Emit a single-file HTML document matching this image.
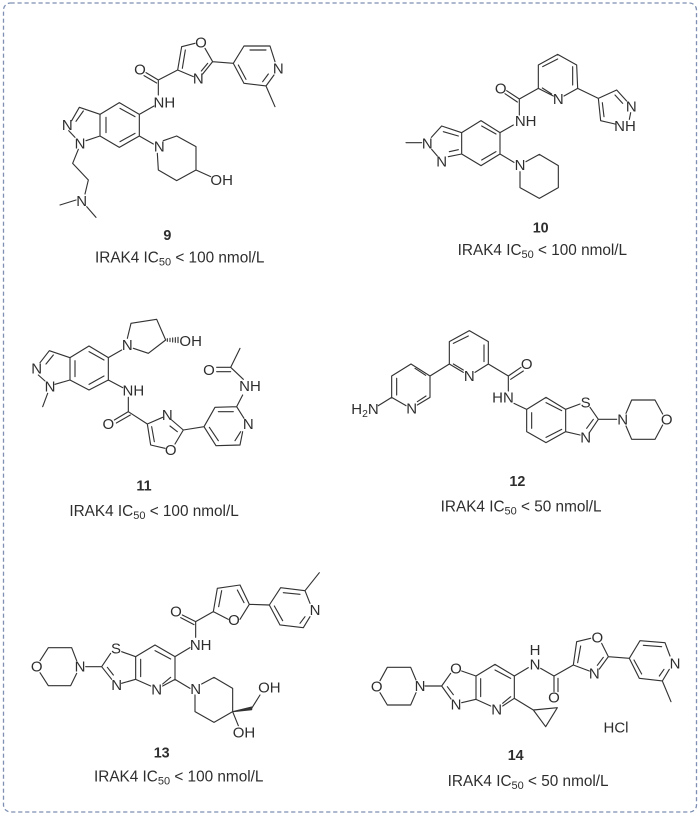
<!DOCTYPE html>
<html><head><meta charset="utf-8"><style>
html,body{margin:0;padding:0;background:#fff}
svg{display:block;filter:blur(.35px)}
path{fill:none;stroke:#333;stroke-width:3.4;stroke-linecap:round;stroke-linejoin:round}
text{font-family:"Liberation Sans",sans-serif;font-size:45px;fill:#2e2e2e;text-anchor:middle}
.b{font-weight:bold;font-size:43px}
.c{text-anchor:start;font-size:46px}
</style></head><body>
<svg width="700" height="816" viewBox="0 0 700 816" xmlns="http://www.w3.org/2000/svg">
<rect x="3.5" y="3" width="693" height="809" rx="7" fill="none" stroke="#7d8fb3" stroke-width="1.3" stroke-dasharray="4.2 2.8"/>

<!-- 9 -->
<g transform="translate(20,0) scale(.33333)">
<path d="M485 140L525 130M555 145L578 185L548 222M563 190L544 213M473 210L520 230M473 210L485 140M487 205L496 150M473 210L415 240L378 218M410 249L372 227M415 240V285M578 185L640 190L672 138H750L765 185M690 150H738M762 225L738 258L672 250L640 190M745 222L728 245M678 238L655 195M738 258L765 320M358 343L402 318M358 408L400 432M430 422L470 408L528 440V510L470 542L415 510L412 460M528 510L572 530M358 343L298 308L240 343V408L298 442L358 408V343M258 352V398M300 325L345 350M300 425L345 400M240 343L178 322L155 362M190 333L168 364M146 392L165 412M198 422L240 408M175 448L158 490L205 540L195 582M168 600L120 615M200 620L228 652"/>
<text x="543" y="143">O</text><text x="535" y="250">N</text><text x="360" y="223">O</text><text x="433" y="322">NH</text><text x="775" y="221">N</text><text x="142" y="390">N</text><text x="180" y="445">N</text><text x="418" y="455">N</text><text x="605" y="555">OH</text><text x="185" y="618">N</text>
<text class="b" x="442" y="720">9</text>
<text class="c" x="225" y="788">IRAK4 IC<tspan font-size="33" dy="9">50</tspan><tspan dy="-9"> &lt; 100 nmol/L</tspan></text>
</g>

<!-- 10 -->
<g transform="translate(350,0) scale(.33333)">
<path d="M610 288L565 265V195L623 163L680 195L683 265L642 288M578 200L623 177M668 200V255M577 264L605 282M565 265L508 297L470 272M502 306L465 281M508 297V345M490 375L450 398L393 362L335 398V462L393 497L450 462V398M395 378L438 402M395 480L438 455M335 398L275 378L244 412M280 395L325 408M245 448L262 468M295 470L335 462M298 455L325 449M168 428H215M450 462L492 487M528 485L568 463L625 497V563L568 595L510 563V515M683 265L745 295L800 270L830 303M795 285L818 310M842 338L838 358M795 372L752 362L745 295M762 350L757 308"/>
<text x="452" y="280">O</text><text x="625" y="312">N</text><text x="527" y="378">NH</text><text x="232" y="445">N</text><text x="275" y="500">N</text><text x="510" y="510">N</text><text x="844" y="335">N</text><text x="825" y="393">NH</text>
<text class="b" x="572" y="698">10</text>
<text class="c" x="323" y="765">IRAK4 IC<tspan font-size="33" dy="9">50</tspan><tspan dy="-9"> &lt; 100 nmol/L</tspan></text>
</g>

<!-- 11 -->
<g transform="translate(20,290) scale(.33333)">
<path d="M150 203L207 168L265 203V270L207 300L150 270V203M207 185L252 210M207 283L252 258M165 212V260M265 203L305 180M322 145L333 100L410 88L437 150L385 190L340 175M265 270L308 293M325 322V365L283 390M331 375L289 399M325 365L382 402L428 382M455 390L490 420L465 462M450 408L472 425M435 475L392 465L382 402M403 455L395 410M490 420L552 410L585 352L650 350L668 315M595 365H640M650 350L672 385M668 425L660 465L588 467L552 410M645 452L662 425M568 412L595 452M670 268L632 232L590 232M632 245H590M632 232L660 175M150 203L88 182L60 218M100 195L78 222M55 255L75 273M105 283L150 270M83 310L68 350"/>
<path d="M442 146V154M450 145V155M458 144V156M466 143V157M474 142V158" stroke-width="2.4"/>
<text x="322" y="180">N</text><text x="512" y="168">OH</text><text x="340" y="316">NH</text><text x="265" y="417">O</text><text x="442" y="390">N</text><text x="452" y="495">O</text><text x="685" y="417">N</text><text x="690" y="303">NH</text><text x="567" y="255">O</text><text x="50" y="250">N</text><text x="90" y="305">N</text>
<text class="b" x="372" y="602">11</text>
<text class="c" x="148" y="678">IRAK4 IC<tspan font-size="33" dy="9">50</tspan><tspan dy="-9"> &lt; 100 nmol/L</tspan></text>
</g>

<!-- 12 -->
<g transform="translate(340,290) scale(.33333)">
<path d="M370 247L328 222V155L388 122L445 155V222L405 247M340 160L385 138M432 165V215M340 222L370 240M445 222L505 258L543 232M512 268L550 243M505 258V303M522 340L560 358L618 322L677 358V425L618 458L560 425V358M618 338L665 362M618 442L665 418M575 368V415M677 358L720 342M750 352L775 388L748 428M760 388L740 415M720 435L677 425M775 388H830M858 370L875 330H945L968 372M968 405L945 448H875L858 408M328 222L270 258L213 222L155 258V322L198 347M225 235L257 256M170 265V315M270 258V322L232 345M258 318L232 335M155 322L115 347"/>
<text x="388" y="273">N</text><text x="560" y="237">O</text><text x="489" y="338">HN</text><text x="737" y="353">S</text><text x="737" y="458">N</text><text x="848" y="403">N</text><text x="980" y="403">O</text><text x="215" y="370">N</text>
<text x="75" y="372">H<tspan font-size="31" dy="9">2</tspan><tspan dy="-9">N</tspan></text>
<text class="b" x="532" y="588">12</text>
<text class="c" x="302" y="665">IRAK4 IC<tspan font-size="33" dy="9">50</tspan><tspan dy="-9"> &lt; 50 nmol/L</tspan></text>
</g>

<!-- 13 -->
<g transform="translate(20,560) scale(.33333)">
<path d="M60 302L85 263H155L170 302M170 340L152 377H85L60 338M197 320H245L272 280M305 275L347 290V358L305 370M275 358L245 320M280 345L262 322M347 290L405 255L465 290V358L428 378M392 378L347 358M405 272L452 297M362 298V350M452 352L428 372M465 290L510 263M527 232V185L487 165M522 194L482 173M527 185L580 155L625 178M660 178L688 133L660 75L592 85L580 155M605 92L596 140M652 90L672 128M688 133L748 135L782 83L855 92L870 130M790 98L840 103M855 92L898 38M870 170L850 203L780 195L748 135M855 170L840 190M788 182L763 138M465 358L510 385M545 372L582 352L638 385V455L582 487L525 455V405M695 445L720 405M638 455L655 497"/>
<path d="M638 455L695 441V449Z" style="fill:#333"/>
<text x="50" y="335">O</text><text x="180" y="335">N</text><text x="288" y="280">S</text><text x="290" y="390">N</text><text x="410" y="403">N</text><text x="542" y="270">NH</text><text x="468" y="170">O</text><text x="642" y="195">O</text><text x="885" y="165">N</text><text x="527" y="402">N</text><text x="748" y="397">OH</text><text x="672" y="533">OH</text>
<text class="b" x="425" y="593">13</text>
<text class="c" x="222" y="665">IRAK4 IC<tspan font-size="33" dy="9">50</tspan><tspan dy="-9"> &lt; 100 nmol/L</tspan></text>
</g>

<!-- 14 -->
<g transform="translate(350,570) scale(.33333)">
<path d="M90 332L112 292H182L198 330M198 368L182 405H112L90 368M225 348H275L302 310M335 303L378 318V388L335 398M275 348L303 387M292 350L310 374M378 318L435 283L493 318V385L458 408M422 408L378 388M435 300L482 325M392 326V380M482 380L458 400M493 318L535 293M572 295L612 318V365M624 325V365M612 318L670 285L680 215L722 205M683 278L692 228M755 220L775 260L748 297M760 262L742 286M718 303L670 285M775 260L838 265L870 212L945 218L960 258M880 226L935 230M958 298L937 333L868 325L838 265M942 298L928 318M875 312L852 270M937 333L963 395M493 385L550 420L622 413L587 470L550 420"/>
<text x="80" y="365">O</text><text x="210" y="363">N</text><text x="318" y="310">O</text><text x="318" y="418">N</text><text x="440" y="433">N</text><text x="555" y="298">N</text><text x="555" y="255">H</text><text x="612" y="398">O</text><text x="742" y="218">O</text><text x="733" y="325">N</text><text x="975" y="295">N</text>
<text x="798" y="487">HCl</text>
<text class="b" x="497" y="570">14</text>
<text class="c" x="293" y="648">IRAK4 IC<tspan font-size="33" dy="9">50</tspan><tspan dy="-9"> &lt; 50 nmol/L</tspan></text>
</g>
</svg>
</body></html>
